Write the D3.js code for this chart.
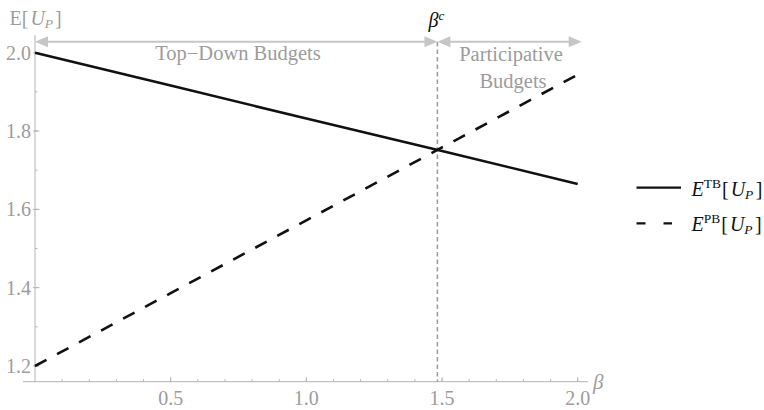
<!DOCTYPE html>
<html>
<head>
<meta charset="utf-8">
<script src="https://cdn.jsdelivr.net/npm/d3@7"></script>
<style>
  body { margin: 0; background: #fff; }
</style>
</head>
<body>
<div id="chart"></div>
<script>
// values
const betaVals = [0, 0.5, 1.0, 1.5, 2.0];
const tbVals = [2.0, 1.916, 1.832, 1.749, 1.665];
const pbVals = [1.2, 1.386, 1.572, 1.758, 1.944];
const betaC = 1.483;
const xTickVals = [0.5, 1.0, 1.5, 2.0];
const xMinorVals = d3.range(0.1, 2.001, 0.1);
const yTickVals = [1.2, 1.4, 1.6, 1.8, 2.0];
const yMinorVals = d3.range(1.2, 2.001, 0.1);

const width = 764, height = 410;
const gray = "#9c9c9c";
const axisGray = "#b3b3b3";
const arrowGray = "#c6c6c6";

const x = d3.scaleLinear().domain([0, 2]).range([35, 577.7]);
const y = d3.scaleLinear().domain([1.2, 2.0]).range([366, 52.7]);

const svg = d3.select("#chart").append("svg")
    .attr("width", width)
    .attr("height", height)
    .style("font-family", "'Liberation Serif', 'Times New Roman', serif");

const axisY = 381.7;

// axes
svg.append("line")
    .attr("x1", 23).attr("x2", 588)
    .attr("y1", axisY).attr("y2", axisY)
    .attr("stroke", axisGray).attr("stroke-width", 1);
svg.append("line")
    .attr("x1", x(0)).attr("x2", x(0))
    .attr("y1", 35).attr("y2", axisY)
    .attr("stroke", axisGray).attr("stroke-width", 1);

svg.selectAll(".xminor").data(xMinorVals).enter().append("line")
    .attr("x1", d => x(d)).attr("x2", d => x(d))
    .attr("y1", axisY).attr("y2", axisY - 2.5)
    .attr("stroke", axisGray);
svg.selectAll(".xmajor").data(xTickVals).enter().append("line")
    .attr("x1", d => x(d)).attr("x2", d => x(d))
    .attr("y1", axisY).attr("y2", axisY - 4.5)
    .attr("stroke", axisGray);
svg.selectAll(".xlab").data(xTickVals).enter().append("text")
    .attr("x", d => x(d)).attr("y", 405)
    .attr("text-anchor", "middle")
    .attr("font-size", 20)
    .attr("fill", gray)
    .text(d => d.toFixed(1));

svg.selectAll(".yminor").data(yMinorVals).enter().append("line")
    .attr("x1", x(0)).attr("x2", x(0) + 2.5)
    .attr("y1", d => y(d)).attr("y2", d => y(d))
    .attr("stroke", axisGray);
svg.selectAll(".ymajor").data(yTickVals).enter().append("line")
    .attr("x1", x(0) - 2).attr("x2", x(0) + 4.5)
    .attr("y1", d => y(d)).attr("y2", d => y(d))
    .attr("stroke", axisGray);
svg.selectAll(".ylab").data(yTickVals).enter().append("text")
    .attr("x", 31).attr("y", d => y(d) + 7)
    .attr("text-anchor", "end")
    .attr("font-size", 20)
    .attr("fill", gray)
    .text(d => d.toFixed(1));

// axis labels
const yl = svg.append("text")
    .attr("x", 9.5).attr("y", 25)
    .attr("font-size", 20)
    .attr("fill", gray);
yl.append("tspan").text("E[");
yl.append("tspan").attr("dx", 2).attr("font-style", "italic").text("U");
yl.append("tspan").attr("font-style", "italic").attr("font-size", 13.5).attr("dy", 3).text("P");
yl.append("tspan").attr("dx", 2).attr("dy", -3).text("]");

svg.append("text")
    .attr("x", 593).attr("y", 388.5)
    .attr("font-size", 21)
    .attr("font-style", "italic")
    .attr("fill", gray)
    .text("β");

// critical beta marker
svg.append("line")
    .attr("x1", x(betaC)).attr("x2", x(betaC))
    .attr("y1", 42).attr("y2", axisY)
    .attr("stroke", "#9a9a9a")
    .attr("stroke-width", 1.5)
    .attr("stroke-dasharray", "4.5,3");

const bc = svg.append("text")
    .attr("x", x(betaC) - 9).attr("y", 27)
    .attr("font-size", 20)
    .attr("fill", "#111");
bc.append("tspan").attr("font-style", "italic").text("β");
bc.append("tspan").attr("font-style", "italic").attr("font-size", 13).attr("dy", -7).text("c");

// region arrows
const arrowY = y(2.028);
function doubleArrow(x1, x2) {
  const hl = 13, hw = 5.5;
  svg.append("line")
      .attr("x1", x1 + hl - 1).attr("x2", x2 - hl + 1)
      .attr("y1", arrowY).attr("y2", arrowY)
      .attr("stroke", arrowGray).attr("stroke-width", 2);
  svg.append("path")
      .attr("d", `M${x1},${arrowY}L${x1 + hl},${arrowY - hw}L${x1 + hl},${arrowY + hw}Z`)
      .attr("fill", arrowGray);
  svg.append("path")
      .attr("d", `M${x2},${arrowY}L${x2 - hl},${arrowY - hw}L${x2 - hl},${arrowY + hw}Z`)
      .attr("fill", arrowGray);
}
doubleArrow(x(0), x(betaC));
doubleArrow(x(betaC), x(2.0) + 4);

svg.append("text")
    .attr("x", 238).attr("y", 60)
    .attr("text-anchor", "middle")
    .attr("font-size", 20.5)
    .attr("fill", gray)
    .text("Top\u2212Down Budgets");
svg.append("text")
    .attr("x", 511).attr("y", 61)
    .attr("text-anchor", "middle")
    .attr("font-size", 20.5)
    .attr("fill", gray)
    .text("Participative");
svg.append("text")
    .attr("x", 513).attr("y", 88)
    .attr("text-anchor", "middle")
    .attr("font-size", 20.5)
    .attr("fill", gray)
    .text("Budgets");

// curves
const line = d3.line().x(d => x(d[0])).y(d => y(d[1]));
svg.append("path")
    .datum(d3.zip(betaVals, tbVals))
    .attr("d", line)
    .attr("fill", "none")
    .attr("stroke", "#111")
    .attr("stroke-width", 2.6);
svg.append("path")
    .datum(d3.zip(betaVals, pbVals))
    .attr("d", line)
    .attr("fill", "none")
    .attr("stroke", "#111")
    .attr("stroke-width", 2.6)
    .attr("stroke-dasharray", "13,12");

// legend
const legendItems = [
  { sup: "TB", dash: null, ly: 187.7 },
  { sup: "PB", dash: "9,18", ly: 223.3 }
];
legendItems.forEach(it => {
  svg.append("line")
      .attr("x1", 636.5).attr("x2", it.dash ? 672 : 681)
      .attr("y1", it.ly).attr("y2", it.ly)
      .attr("stroke", "#111")
      .attr("stroke-width", 2.2)
      .attr("stroke-dasharray", it.dash);
  const t = svg.append("text")
      .attr("x", 691.5).attr("y", it.ly + 8)
      .attr("font-size", 20)
      .attr("fill", "#111");
  t.append("tspan").attr("font-style", "italic").text("E");
  t.append("tspan").attr("font-size", 13.5).attr("dy", -8).text(it.sup);
  t.append("tspan").attr("dx", 1).attr("dy", 8).text("[");
  t.append("tspan").attr("dx", 2).attr("font-style", "italic").text("U");
  t.append("tspan").attr("font-style", "italic").attr("font-size", 13.5).attr("dy", 3).text("P");
  t.append("tspan").attr("dx", 2.5).attr("dy", -3).text("]");
});
</script>
</body>
</html>
